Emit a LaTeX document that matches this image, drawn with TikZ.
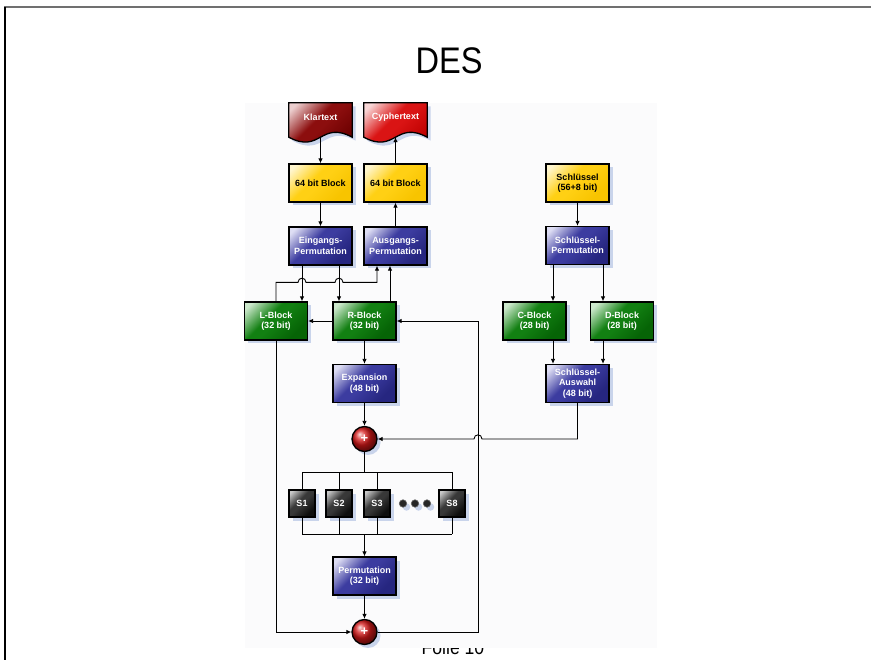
\documentclass[tikz,border=0pt]{standalone}
\usepackage{fontspec}
\setmainfont{Liberation Sans}
\usetikzlibrary{arrows.meta,shadows,calc}

\definecolor{framegray}{RGB}{112,112,112}
\definecolor{backdrop}{RGB}{251,251,252}
\definecolor{shadowblue}{RGB}{196,208,234}
\definecolor{blueL}{RGB}{222,222,244}
\definecolor{blueM}{RGB}{60,60,160}
\definecolor{blueD}{RGB}{38,38,128}
\definecolor{greenL}{RGB}{204,232,204}
\definecolor{greenM}{RGB}{18,128,18}
\definecolor{greenD}{RGB}{6,100,6}
\definecolor{yelL}{RGB}{255,246,206}
\definecolor{yelM}{RGB}{255,208,20}
\definecolor{yelD}{RGB}{248,196,0}
\definecolor{wineL}{RGB}{236,206,206}
\definecolor{wineM}{RGB}{140,14,14}
\definecolor{wineD}{RGB}{108,0,0}
\definecolor{redL}{RGB}{248,214,214}
\definecolor{redM}{RGB}{218,20,20}
\definecolor{redD}{RGB}{190,0,0}
\definecolor{sL}{RGB}{200,200,200}
\definecolor{sM}{RGB}{56,56,56}
\definecolor{sD}{RGB}{14,14,14}
\definecolor{xorred}{RGB}{214,24,24}

% working colours of the box shading, set per box
\colorlet{shD}{blueD}
\colorlet{shM}{blueM}
\colorlet{shL}{blueL}
\pgfdeclareverticalshading[shD,shM,shL]{boxshade}{100bp}{%
  color(0bp)=(shD); color(28bp)=(shD); color(50bp)=(shM); color(58bp)=(shM);
  color(80bp)=(shL); color(100bp)=(shL)}

\pgfdeclarelayer{under}
\pgfsetlayers{under,main}

\tikzset{
  every node/.style={font=\fontsize{9}{10.5}\selectfont\bfseries, align=center, inner sep=0pt},
  softshadow/.style={drop shadow={shadow xshift=3.5pt, shadow yshift=-3.5pt, fill=shadowblue, opacity=0.9}},
  palette/.code n args={3}{\colorlet{shD}{#1}\colorlet{shM}{#2}\colorlet{shL}{#3}},
  shadedbox/.style={shade, shading=boxshade, shading angle=45},
  box/.style={draw=black, line width=1.3pt, minimum width=63pt, minimum height=38pt,
              text=white, softshadow, shadedbox},
  bluebox/.style={box, palette={blueD}{blueM}{blueL}},
  greenbox/.style={box, palette={greenD}{greenM}{greenL}},
  yelbox/.style={box, text=black, palette={yelD}{yelM}{yelL}},
  sbox/.style={box, minimum width=26pt, minimum height=27pt, palette={sD}{sM}{sL}},
  doclabel/.style={minimum width=63pt, minimum height=28pt, text=white},
  docpath/.style={draw=black, line width=1.3pt, softshadow, shadedbox},
  xorn/.style={circle, draw=black, line width=1.3pt, minimum size=25pt, ball color=xorred,
               text=white, font=\fontsize{13}{13}\selectfont\bfseries, softshadow},
  dotn/.style={circle, fill=black!85, draw=black!60, line width=0.6pt, minimum size=7.5pt, softshadow},
  arr/.style={line width=0.9pt, -{Latex[length=5pt,width=4.5pt]}},
  wire/.style={line width=0.9pt},
}

% wavy "document" outline below a label node
\newcommand\docoutline[2]{%
  \path[docpath,#2] (#1.north west) -- (#1.north east)
    -- ([yshift=-6pt]#1.south east)
    .. controls ([yshift=11pt]#1.south) and ([yshift=-23pt]#1.south) ..
    ([yshift=-6pt]#1.south west) -- cycle;%
}

\begin{document}
\begin{tikzpicture}[x=1pt,y=-1pt]
\useasboundingbox (0,0) rectangle (871,660);

% slide frame, footer and picture backdrop
\begin{pgfonlayer}{under}
  \fill[white] (0,0) rectangle (871,660);
  \draw[line width=2pt, framegray] (4,7.5) -- (871,7.5);
  \draw[line width=1.4pt, black] (5,7.5) -- (5,660);
  \node[anchor=base, font=\fontsize{20}{24}\selectfont] (folie) at (453,654.5) {\scalebox{0.88}[1]{Folie 10}};
  \fill[backdrop] (245,103) rectangle (657,648);
\end{pgfonlayer}

% title
\node[anchor=base, font=\fontsize{37}{40}\selectfont] (title) at (449,74) {\scalebox{0.88}[1]{DES}};

% plaintext / ciphertext documents
\node[doclabel] (klar) at (320.5,117) {Klartext};
\node[doclabel] (cyph) at (395.5,117) {Cyphertext};
\begin{pgfonlayer}{under}
  \docoutline{klar}{palette={wineD}{wineM}{wineL}}
  \docoutline{cyph}{palette={redD}{redM}{redL}}
\end{pgfonlayer}
\coordinate (klarbot) at ([yshift=-6pt]klar.south);
\coordinate (cyphbot) at ([yshift=-6pt]cyph.south);

% data path
\node[yelbox] (blkL) at (320.5,183) {64 bit Block};
\node[yelbox] (blkR) at (395.5,183) {64 bit Block};
\node[bluebox] (einP) at (320.5,246) {Eingangs-\\Permutation};
\node[bluebox] (ausP) at (395.5,246) {Ausgangs-\\Permutation};
\node[greenbox] (lblk) at (276,321) {L-Block\\(32 bit)};
\node[greenbox] (rblk) at (364.5,321) {R-Block\\(32 bit)};
\node[bluebox] (exp) at (364.5,383.5) {Expansion\\(48 bit)};
\node[xorn] (xor1) at (364.5,439) {+};
\node[sbox] (s1) at (302,503.5) {S1};
\node[sbox] (s2) at (339,503.5) {S2};
\node[sbox] (s3) at (377,503.5) {S3};
\node[sbox] (s8) at (452,503.5) {S8};
\node[dotn] (dot1) at (403,503.5) {};
\node[dotn] (dot2) at (415,503.5) {};
\node[dotn] (dot3) at (427,503.5) {};
\node[bluebox] (perm) at (364.5,576) {Permutation\\(32 bit)};
\node[xorn] (xor2) at (364.5,632) {+};

% key schedule
\node[yelbox] (key) at (577.5,183) {Schlüssel\\(56+8 bit)};
\node[bluebox] (keyP) at (577.5,245.5) {Schlüssel-\\Permutation};
\node[greenbox] (cblk) at (534.5,321) {C-Block\\(28 bit)};
\node[greenbox] (dblk) at (622,321) {D-Block\\(28 bit)};
\node[bluebox] (keyS) at (577.5,383.5) {Schlüssel-\\Auswahl\\(48 bit)};

% helper points
\coordinate (eL) at ([xshift=-18.5pt]einP.south);
\coordinate (eR) at ([xshift=18.5pt]einP.south);
\coordinate (aL) at ([xshift=-18.5pt]ausP.south);
\coordinate (aR) at ([xshift=-5.5pt]ausP.south);
\coordinate (jy) at ($(lblk.north)+(0,-19)$);
\coordinate (fbtop) at (478,321);
\coordinate (busT) at (364.5,472);
\coordinate (busB) at (364.5,534);

% connectors: input / output
\draw[arr] (klarbot) -- (blkL);
\draw[arr] (blkL) -- (einP);
\draw[arr] (ausP) -- (blkR);
\draw[arr] (blkR) -- (cyphbot);
\draw[arr] (eL) -- (eL |- lblk.north);
\draw[arr] (eR) -- (eR |- rblk.north);
\draw[arr] (aR |- rblk.north) -- (aR);
\draw[arr] (lblk.north) -- (jy)
  -- ([xshift=-4pt]eL |- jy) .. controls +(0,-5.5) and +(0,-5.5) .. ([xshift=4pt]eL |- jy)
  -- ([xshift=-4pt]eR |- jy) .. controls +(0,-5.5) and +(0,-5.5) .. ([xshift=4pt]eR |- jy)
  -- (aL |- jy) -- (aL);

% round function
\draw[arr] (rblk) -- (lblk);
\draw[arr] (rblk) -- (exp);
\draw[arr] (exp) -- (xor1);
\draw[wire] (xor1) -- (busT);
\draw[wire] (s1.north |- busT) -- (s8.north |- busT);
\draw[wire] (s1.south |- busB) -- (s8.south |- busB);
\foreach \s in {s1,s2,s3,s8}{
  \draw[wire] (\s.north) -- (\s.north |- busT);
  \draw[wire] (\s.south) -- (\s.south |- busB);
}
\draw[arr] (busB) -- (perm);
\draw[arr] (perm) -- (xor2);
\draw[arr] (lblk) -- (lblk |- xor2) -- (xor2);
\draw[arr] (xor2) -- (xor2 -| fbtop) -- (fbtop) -- (rblk);

% key schedule connectors
\draw[arr] (key) -- (keyP);
\draw[arr] ([xshift=-24.5pt]keyP.south) -- ([xshift=-24.5pt]keyP.south |- cblk.north);
\draw[arr] ([xshift=25.5pt]keyP.south) -- ([xshift=25.5pt]keyP.south |- dblk.north);
\draw[arr] ([xshift=18.5pt]cblk.south) -- ([xshift=18.5pt]cblk.south |- keyS.north);
\draw[arr] ([xshift=-19pt]dblk.south) -- ([xshift=-19pt]dblk.south |- keyS.north);
\draw[arr] (keyS.south) -- (keyS.south |- xor1)
  -- ([xshift=4pt]fbtop |- xor1) .. controls +(0,-5.5) and +(0,-5.5) .. ([xshift=-4pt]fbtop |- xor1)
  -- (xor1);
\end{tikzpicture}
\end{document}
